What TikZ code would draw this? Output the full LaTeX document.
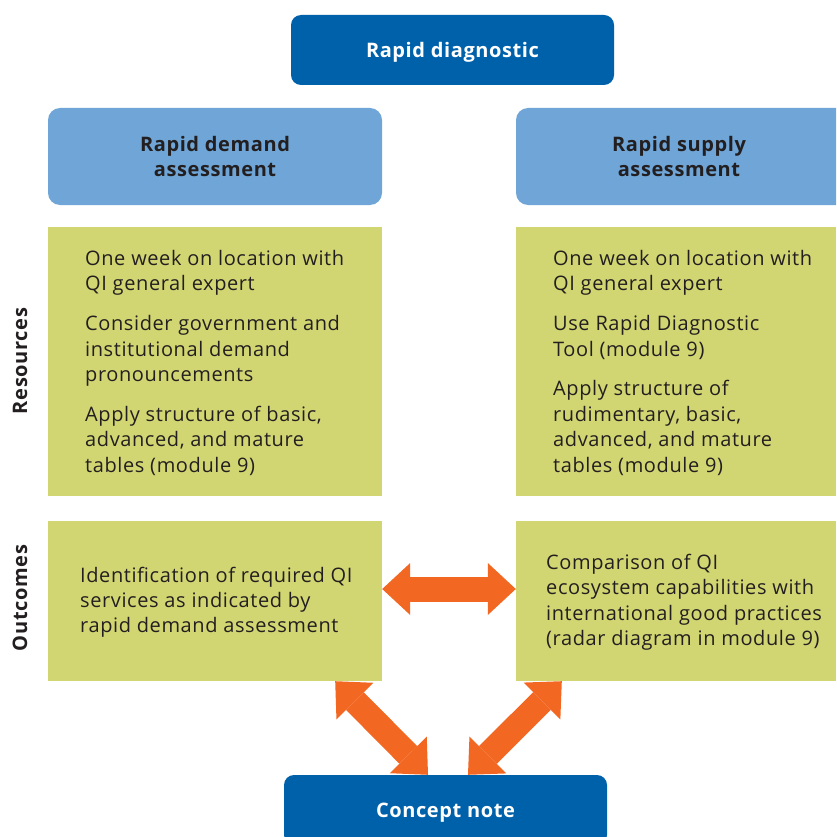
\documentclass[tikz,border=0pt]{standalone}
\usepackage{fontspec}
\setmainfont{Open Sans}[LetterSpace=3]
\usetikzlibrary{arrows.meta}
\definecolor{navy}{HTML}{0061AB}
\definecolor{sky}{HTML}{6FA6D7}
\definecolor{olive}{HTML}{D2D672}
\definecolor{tang}{HTML}{F26722}
\definecolor{ink}{HTML}{231F20}
\tikzset{
  darkbox/.style={fill=navy, rounded corners=10pt, inner sep=0pt, text=white,
    text depth=0pt, font=\fontsize{20}{25}\selectfont\bfseries},
  headbox/.style={fill=sky, rounded corners=12pt, inner sep=0pt, text=ink,
    font=\fontsize{20}{25}\selectfont\bfseries, align=center},
  greenbox/.style={fill=olive, inner sep=0pt},
  bodytext/.style={inner sep=0pt, anchor=north west, align=left, text=ink,
    font=\fontsize{20}{25.4}\selectfont},
  sidelabel/.style={inner sep=0pt, rotate=90, text=ink,
    font=\fontsize{20}{25}\selectfont\bfseries},
  twoway/.style={draw=tang, line width=25pt,
    {Triangle[length=28pt,width=52pt,line width=0pt,fill=tang]}-{Triangle[length=28pt,width=52pt,line width=0pt,fill=tang]}}
}
\begin{document}
\begin{tikzpicture}[x=1pt,y=-1pt]
\clip (0,0) rectangle (836,837);
\fill[white] (0,0) rectangle (836,837);

% top and bottom stages
\node[darkbox, minimum width=323pt, minimum height=70pt] (diag) at (452.5,50) {Rapid diagnostic};
\node[darkbox, minimum width=323pt, minimum height=70pt] (concept) at (445.5,810) {Concept note};

% assessment headers
\node[headbox, minimum width=334pt, minimum height=97pt] (lhead) at (215,156.5) {Rapid demand\\assessment};
\node[headbox, minimum width=340pt, minimum height=97pt] (rhead) at (686,156.5) {};
\node[headbox, fill=none] (rheadtxt) at (679,156.5) {Rapid supply\\assessment};

% resources
\node[greenbox, minimum width=334pt, minimum height=269pt] (lres) at (215,361.5) {};
\node[greenbox, minimum width=320pt, minimum height=269pt] (rres) at (676,361.5) {};
\node[bodytext] (lrestxt) at (85,250) {One week on location with\\QI general expert\\[14.5pt]
  Consider government and\\institutional demand\\pronouncements\\[14.5pt]
  Apply structure of basic,\\advanced, and mature\\tables (module 9)};
\node[bodytext] (rrestxt) at (553,250) {One week on location with\\QI general expert\\[14.5pt]
  Use Rapid Diagnostic\\Tool (module 9)\\[14.5pt]
  Apply structure of\\rudimentary, basic,\\advanced, and mature\\tables (module 9)};

% outcomes
\node[greenbox, minimum width=334pt, minimum height=160pt] (lout) at (215,601) {};
\node[greenbox, minimum width=320pt, minimum height=160pt] (rout) at (676,601) {};
\node[bodytext] (louttxt) at (80,566.5) {Identification of required QI\\services as indicated by\\rapid demand assessment};
\node[bodytext] (routtxt) at (546,554) {Comparison of QI\\ecosystem capabilities with\\international good practices\\(radar diagram in module 9)};

% row labels
\node[sidelabel] (resl) at (20,361) {Resources};
\node[sidelabel] (outl) at (20,598) {Outcomes};

% two-way links
\draw[twoway] ([yshift=12pt]lout.east) -- ([yshift=12pt]rout.west);
\draw[twoway] ([xshift=-47pt]lout.south east) -- ([xshift=-17.5pt]concept.north);
\draw[twoway] ([xshift=46pt]rout.south west) -- ([xshift=22.5pt]concept.north);
\end{tikzpicture}
\end{document}
